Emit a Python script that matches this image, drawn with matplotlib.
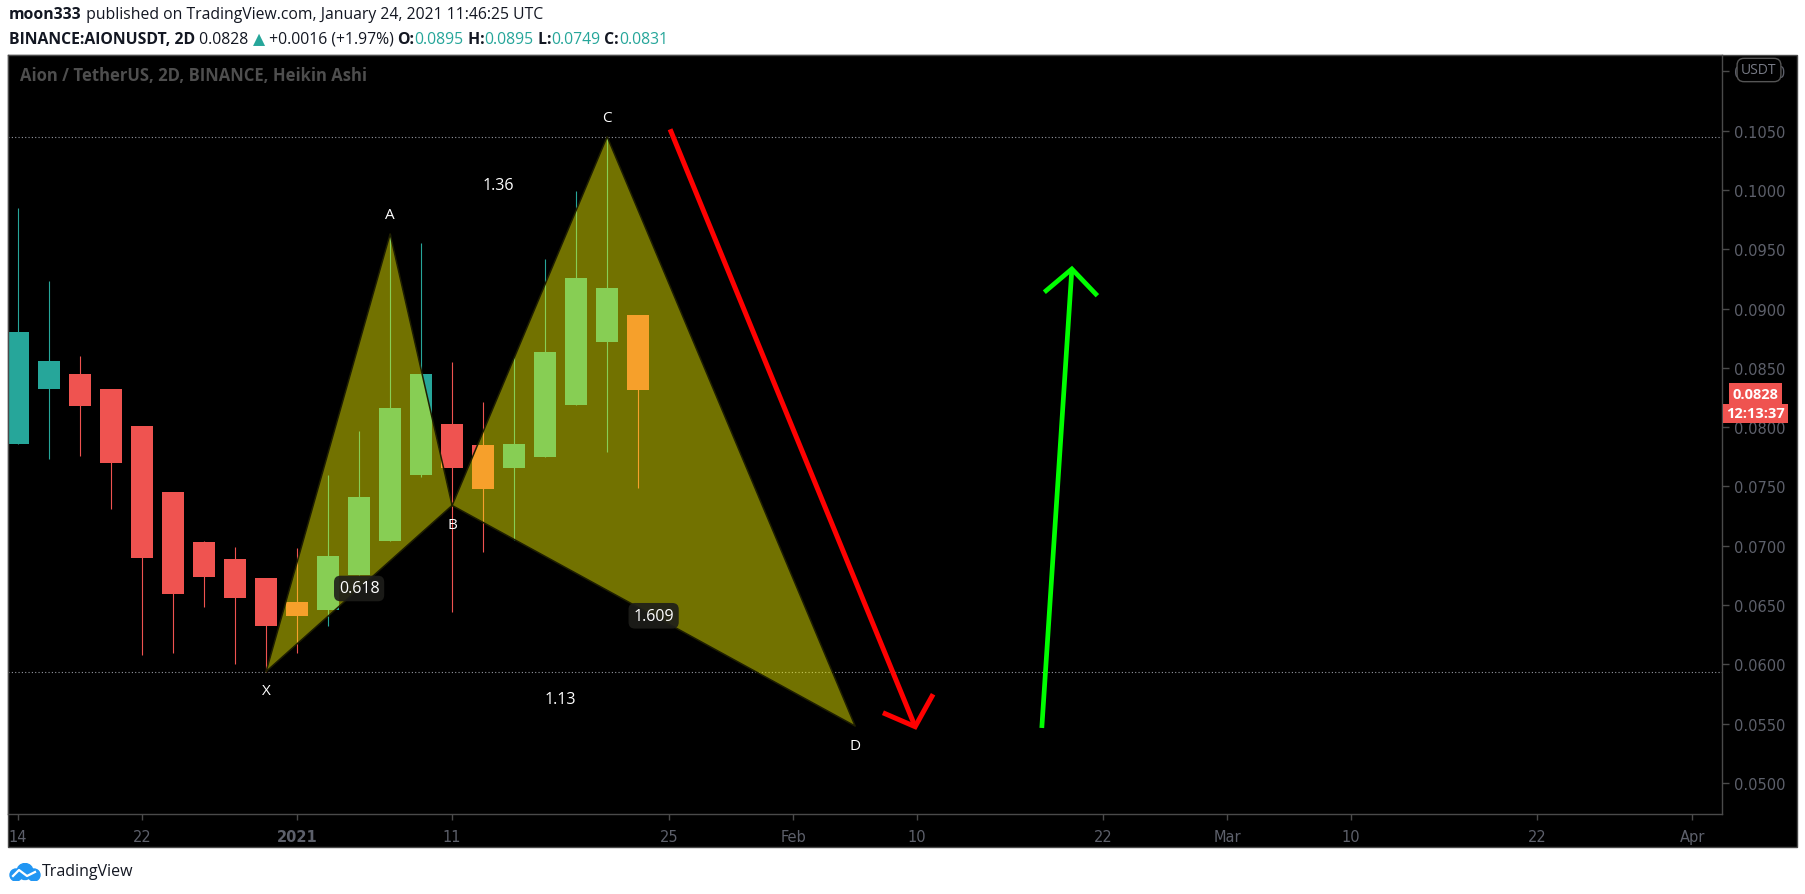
import matplotlib
matplotlib.use('Agg')
import matplotlib.pyplot as plt
from matplotlib.patches import Rectangle, Polygon, Circle

W, H = 1805, 895

# 2D Heikin Ashi candles, x = days from 2021-01-01
days   = [-18, -16, -14, -12, -10, -8, -6, -4, -2, 0, 2, 4, 6, 8, 10, 12, 14, 16, 18, 20, 22]
opens  = [0.0786, 0.0832, 0.0845, 0.0832, 0.0801, 0.0745, 0.0703, 0.0689, 0.0673, 0.0653, 0.0646,
          0.0675, 0.0704, 0.0760, 0.0803, 0.0785, 0.0766, 0.0775, 0.0819, 0.0872, 0.0895]
highs  = [0.0985, 0.0923, 0.0860, 0.0832, 0.0801, 0.0745, 0.0704, 0.0699, 0.0673, 0.0698, 0.0760,
          0.0797, 0.0963, 0.0955, 0.0855, 0.0821, 0.0860, 0.0942, 0.0999, 0.1045, 0.0895]
lows   = [0.0786, 0.0773, 0.0776, 0.0731, 0.0608, 0.0610, 0.0648, 0.0600, 0.0594, 0.0610, 0.0632,
          0.0675, 0.0704, 0.0758, 0.0644, 0.0695, 0.0705, 0.0775, 0.0819, 0.0779, 0.0749]
closes = [0.0880, 0.0856, 0.0818, 0.0770, 0.0690, 0.0659, 0.0674, 0.0656, 0.0632, 0.0641, 0.0691,
          0.0741, 0.0816, 0.0845, 0.0766, 0.0748, 0.0786, 0.0863, 0.0926, 0.0917, 0.0831]

# XABCD pattern
pattern_names  = ['X', 'A', 'B', 'C', 'D']
pattern_days   = [-2, 6, 10, 20, 36]
pattern_prices = [0.0594, 0.0963, 0.0734, 0.1045, 0.0548]
ratio_labels = ['0.618', '1.36', '1.609', '1.13']
ratio_pairs  = [(0, 2), (1, 3), (2, 4), (0, 4)]
ratio_boxed  = [True, False, True, False]

# hand drawn arrows
red_days, red_prices = [24.06, 39.87], [0.10512, 0.05475]
red_head_days, red_head_prices = [37.94, 39.87, 40.95], [0.05584, 0.05475, 0.05730]
green_days, green_prices = [48.04, 49.98], [0.05464, 0.09334]
green_head_days, green_head_prices = [48.32, 49.98, 51.52], [0.09151, 0.09334, 0.09123]

ytick_values = [0.050, 0.055, 0.060, 0.065, 0.070, 0.075, 0.080, 0.085, 0.090, 0.095, 0.100, 0.105, 0.110]
xtick_days   = [-18, -10, 0, 10, 24, 32, 40, 52, 60, 68, 80, 90]
xtick_labels = ['14', '22', '2021', '11', '25', 'Feb', '10', '22', 'Mar', '10', '22', 'Apr']

last_price = 0.0828
countdown = '12:13:37'

TEAL, RED = '#26a69a', '#ef5350'
AXIS_TXT = '#5d606b'
FRAME = '#4a4a4a'
NARROW = ['Liberation Sans Narrow', 'DejaVu Sans']
SANS = ['Open Sans', 'DejaVu Sans']
HDR_SIZE = 11.3


def fx(px):
    return px / W


def fy(py):
    return 1 - py / H


fig = plt.figure(figsize=(W / 100, H / 100), dpi=100, facecolor='white')

# black chart panel incl. price & time scales
fig.add_artist(Rectangle((fx(8), fy(848)), fx(1797) - fx(8), fy(55.7) - fy(848),
                         transform=fig.transFigure, facecolor='black', edgecolor=FRAME,
                         lw=1, zorder=-1))

ax = fig.add_axes([fx(8), fy(815), fx(1721.7) - fx(8), fy(55.7) - fy(815)])
ax.set_facecolor('black')
ax.set_xlim(-18.65, 91.9)
ax.set_ylim(0.047386, 0.111408)
for s in ax.spines.values():
    s.set_color(FRAME)
    s.set_linewidth(1)

# candles
for d, o, h, l, c in zip(days, opens, highs, lows, closes):
    col = TEAL if c >= o else RED
    ax.vlines(d, l, h, color=col, lw=0.8, zorder=2)
    ax.bar(d, abs(c - o), bottom=min(o, c), width=1.45, color=col, zorder=2)

# pattern fills + edges
pts = list(zip(pattern_days, pattern_prices))
for tri in ([0, 1, 2], [2, 3, 4]):
    ax.add_patch(Polygon([pts[i] for i in tri], closed=True, facecolor='#ffff00',
                         alpha=0.45, edgecolor='none', zorder=3))
    xs = [pattern_days[i] for i in tri + [tri[0]]]
    ys = [pattern_prices[i] for i in tri + [tri[0]]]
    ax.plot(xs, ys, color='#1e1e00', lw=1.1, zorder=4)

for i, (n, d, p) in enumerate(zip(pattern_names, pattern_days, pattern_prices)):
    up = i in (1, 3)
    ax.annotate(n, xy=(d, p), xytext=(0, 14 if up else -14), textcoords='offset points',
                ha='center', va='center', color='white', fontsize=11, family=SANS, zorder=6)

for lab, (i, j), boxed in zip(ratio_labels, ratio_pairs, ratio_boxed):
    mx = (pattern_days[i] + pattern_days[j]) / 2
    my = (pattern_prices[i] + pattern_prices[j]) / 2
    bb = dict(boxstyle='round,pad=0.3,rounding_size=0.4', fc='#1e1e1a', ec='none', alpha=0.9) if boxed else None
    ax.text(mx, my, lab, ha='center', va='center', color='white', fontsize=11.5,
            family=SANS, bbox=bb, zorder=6)

# level lines
for lvl in (pattern_prices[0], pattern_prices[3]):
    ax.axhline(lvl, color='#9598a1', lw=0.8, ls=(0, (1, 2)), zorder=1)

# arrows
ax.plot(red_days, red_prices, color='#ff0000', lw=3.6, solid_capstyle='butt', zorder=5)
ax.plot(red_head_days, red_head_prices, color='#ff0000', lw=3.6, solid_joinstyle='miter', zorder=5)
ax.plot(green_days, green_prices, color='#00ff00', lw=3.4, solid_capstyle='butt', zorder=5)
ax.plot(green_head_days, green_head_prices, color='#00ff00', lw=3.4, solid_joinstyle='miter', zorder=5)

# scales
ax.yaxis.tick_right()
ax.set_yticks(ytick_values, [f'{v:.4f}' for v in ytick_values])
ax.set_xticks(xtick_days, xtick_labels)
ax.tick_params(axis='y', direction='out', length=5, width=1, color=FRAME,
               labelcolor=AXIS_TXT, labelsize=10.5, pad=4)
ax.tick_params(axis='x', direction='out', length=4, width=1, color=FRAME,
               labelcolor=AXIS_TXT, labelsize=10.5, pad=7)
for t in ax.get_xticklabels() + ax.get_yticklabels():
    t.set_family(NARROW)
ax.get_xticklabels()[2].set_fontweight('bold')

ax.annotate(f'{last_price:.4f}', xy=(1, last_price), xycoords=('axes fraction', 'data'),
            xytext=(8, 0), textcoords='offset points', ha='left', va='center',
            color='white', fontsize=10.5, weight='bold', family=SANS, zorder=7,
            bbox=dict(boxstyle='square,pad=0.25', fc=RED, ec='none'))
ax.annotate(countdown, xy=(1, last_price), xycoords=('axes fraction', 'data'),
            xytext=(3, -14), textcoords='offset points', ha='left', va='center',
            color='white', fontsize=10.5, weight='bold', family=SANS, zorder=7,
            bbox=dict(boxstyle='square,pad=0.2', fc=RED, ec='none'))

fig.text(fx(1759), fy(71), 'USDT', ha='center', va='center', color='#787b86', fontsize=10,
         family=SANS, zorder=8,
         bbox=dict(boxstyle='round,pad=0.3,rounding_size=0.5', fc='black', ec='#555555', lw=1))

fig.text(fx(20), fy(76), 'Aion / TetherUS, 2D, BINANCE, Heikin Ashi', ha='left', va='center',
         color='#4e4e4e', fontsize=12, weight='bold', family=SANS)

# header lines
DARK = '#131722'


def chain(pieces, x, y):
    t = fig.text(fx(x), fy(y), pieces[0][0], ha='left', va='center', color=pieces[0][2],
                 fontsize=HDR_SIZE, weight=pieces[0][1], family=SANS)
    for s, w, c in pieces[1:]:
        t = ax.annotate(s, xy=(1, 0), xycoords=t, xytext=(0, 0), textcoords='offset points',
                        ha='left', va='bottom', color=c, fontsize=HDR_SIZE, weight=w, family=SANS)


chain([('moon333', 'bold', DARK),
       (' published on TradingView.com, January 24, 2021 11:46:25 UTC', 'normal', DARK)], 9, 15)
chain([('BINANCE:AIONUSDT, 2D', 'bold', DARK), (' 0.0828 ', 'normal', DARK),
       ('▲', 'normal', TEAL), (' +0.0016 (+1.97%) ', 'normal', DARK),
       ('O:', 'bold', DARK), ('0.0895', 'normal', TEAL),
       (' H:', 'bold', DARK), ('0.0895', 'normal', TEAL),
       (' L:', 'bold', DARK), ('0.0749', 'normal', TEAL),
       (' C:', 'bold', DARK), ('0.0831', 'normal', TEAL)], 9, 40)

# TradingView logo
lax = fig.add_axes([fx(8), fy(882), fx(41) - fx(8), fy(864) - fy(882)])
lax.set_xlim(0, 33)
lax.set_ylim(0, 18)
lax.axis('off')
for cx, cy, r in ((8, 6, 6), (17, 9.5, 8), (26, 6, 6)):
    lax.add_patch(Circle((cx, cy), r, color='#2196f3'))
lax.plot([5, 11, 19, 27], [5, 11, 5, 9], color='white', lw=1.6)
fig.text(fx(42), fy(872), 'TradingView', ha='left', va='center', color=DARK, fontsize=11.5,
         family=SANS)

fig.savefig('out.png', dpi=100, facecolor='white')
